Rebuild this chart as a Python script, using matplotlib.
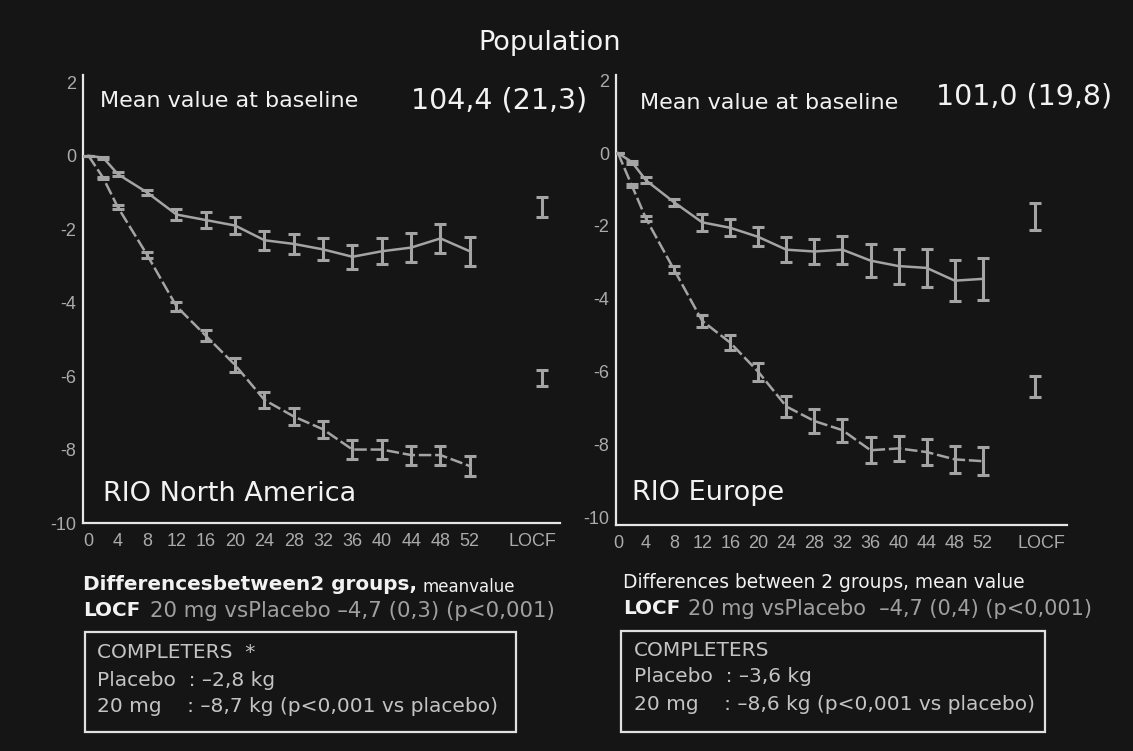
import matplotlib
matplotlib.use("Agg")
import matplotlib.pyplot as plt
from matplotlib.patches import Rectangle

# ---------------- data ----------------
weeks = [0, 2, 4, 8, 12, 16, 20, 24, 28, 32, 36, 40, 44, 48, 52]
xtick_weeks = [0, 4, 8, 12, 16, 20, 24, 28, 32, 36, 40, 44, 48, 52]
xtick_labels = ["0", "4", "8", "12", "16", "20", "24", "28", "32", "36", "40", "44", "48", "52"]
ytick_vals = [2, 0, -2, -4, -6, -8, -10]

na_placebo = [0, -0.05, -0.5, -1.0, -1.6, -1.75, -1.9, -2.3, -2.4, -2.55, -2.75, -2.6, -2.5, -2.25, -2.6]
na_placebo_err = [0, 0.03, 0.06, 0.08, 0.15, 0.22, 0.23, 0.26, 0.27, 0.30, 0.32, 0.36, 0.40, 0.39, 0.39]
na_drug = [0, -0.6, -1.4, -2.7, -4.1, -4.9, -5.7, -6.65, -7.1, -7.45, -8.0, -8.0, -8.15, -8.15, -8.45]
na_drug_err = [0, 0.03, 0.05, 0.08, 0.12, 0.15, 0.18, 0.22, 0.22, 0.24, 0.25, 0.25, 0.26, 0.26, 0.27]
na_locf_placebo = -1.4
na_locf_placebo_err = 0.27
na_locf_drug = -6.05
na_locf_drug_err = 0.21

eu_placebo = [0, -0.25, -0.75, -1.35, -1.9, -2.05, -2.3, -2.65, -2.7, -2.65, -2.95, -3.1, -3.15, -3.5, -3.45]
eu_placebo_err = [0, 0.04, 0.08, 0.10, 0.23, 0.23, 0.26, 0.34, 0.34, 0.38, 0.46, 0.48, 0.52, 0.57, 0.57]
eu_drug = [0, -0.9, -1.8, -3.2, -4.6, -5.2, -6.0, -6.95, -7.35, -7.6, -8.15, -8.1, -8.2, -8.4, -8.45]
eu_drug_err = [0, 0.04, 0.06, 0.10, 0.16, 0.20, 0.24, 0.30, 0.32, 0.32, 0.35, 0.34, 0.35, 0.38, 0.38]
eu_locf_placebo = -1.75
eu_locf_placebo_err = 0.37
eu_locf_drug = -6.4
eu_locf_drug_err = 0.29

# ---------------- style ----------------
BG = "#151515"
LINE = "#a4a4a4"
TICK = "#ababab"
WHITE = "#f2f2f2"
SOFT = "#c4c4c4"
GREY = "#a0a0a0"
MAIN = ["DejaVu Sans"]
TICKFONT = ["Liberation Sans", "DejaVu Sans"]
plt.rcParams["font.family"] = MAIN

W, H = 1133, 751
fig = plt.figure(figsize=(W / 100, H / 100), dpi=100, facecolor=BG)


def fx(px):
    return px / W


def fy(py):
    return 1 - py / H


def panel(rect, placebo, placebo_err, drug, drug_err, lp, lpe, ld, lde,
          xlim, ylim, locf_x, locf_lbl_x):
    ax = fig.add_axes(rect)
    ax.set_facecolor(BG)
    ax.errorbar(weeks, placebo, yerr=placebo_err, color=LINE, lw=1.8,
                elinewidth=2.2, capsize=4, capthick=2.2, zorder=3)
    ax.errorbar(weeks, drug, yerr=drug_err, color=LINE, lw=1.8, ls=(0, (5, 1.5)),
                elinewidth=2.2, capsize=4, capthick=2.2, zorder=3)
    ax.errorbar([locf_x], [lp], yerr=[lpe], color=LINE, elinewidth=2.2,
                capsize=4, capthick=2.2, fmt="none")
    ax.errorbar([locf_x], [ld], yerr=[lde], color=LINE, elinewidth=2.2,
                capsize=4, capthick=2.2, fmt="none")
    ax.set_xlim(*xlim)
    ax.set_ylim(*ylim)
    ax.set_xticks(xtick_weeks + [locf_lbl_x])
    ax.set_xticklabels(xtick_labels + ["LOCF"], family=TICKFONT)
    ax.set_yticks(ytick_vals)
    ax.set_yticklabels([str(v) for v in ytick_vals], family=TICKFONT)
    ax.tick_params(axis="both", length=0, colors=TICK, labelsize=13)
    ax.tick_params(axis="x", pad=7)
    ax.tick_params(axis="y", pad=5)
    for s in ("top", "right"):
        ax.spines[s].set_visible(False)
    for s in ("left", "bottom"):
        ax.spines[s].set_color("#e6e6e6")
        ax.spines[s].set_linewidth(1.6)
    return ax


ax1 = panel([fx(83), fy(523), fx(560 - 83), (523 - 75) / H],
            na_placebo, na_placebo_err, na_drug, na_drug_err,
            na_locf_placebo, na_locf_placebo_err, na_locf_drug, na_locf_drug_err,
            xlim=(-0.75, 64.3), ylim=(-10.0, 2.2), locf_x=61.8, locf_lbl_x=60.6)
ax2 = panel([fx(616), fy(525), fx(1067 - 616), (525 - 75) / H],
            eu_placebo, eu_placebo_err, eu_drug, eu_drug_err,
            eu_locf_placebo, eu_locf_placebo_err, eu_locf_drug, eu_locf_drug_err,
            xlim=(-0.28, 64.0), ylim=(-10.2, 2.14), locf_x=59.5, locf_lbl_x=60.4)

# ---------------- texts ----------------
fig.text(fx(550), fy(43), "Population", color=WHITE, fontsize=19.5,
         ha="center", va="center")

fig.text(fx(100), fy(101), "Mean value at baseline", color=WHITE, fontsize=16,
         ha="left", va="center")
fig.text(fx(411), fy(101), "104,4 (21,3)", color=WHITE, fontsize=20.5,
         ha="left", va="center")
fig.text(fx(640), fy(103), "Mean value at baseline", color=WHITE, fontsize=16,
         ha="left", va="center")
fig.text(fx(936), fy(97), "101,0 (19,8)", color=WHITE, fontsize=20.5,
         ha="left", va="center")

fig.text(fx(103), fy(494), "RIO North America", color=WHITE, fontsize=19.5,
         ha="left", va="center")
fig.text(fx(632), fy(493), "RIO Europe", color=WHITE, fontsize=19.5,
         ha="left", va="center")

# left bottom block
fig.text(fx(83), fy(585), "Differencesbetween2 groups,", color=WHITE,
         fontsize=14.4, fontweight="bold", ha="left", va="center")
fig.text(fx(423), fy(587), "meanvalue", color=WHITE, fontsize=12,
         ha="left", va="center")
fig.text(fx(83), fy(611), "LOCF", color=WHITE, fontsize=14.4,
         fontweight="bold", ha="left", va="center")
fig.text(fx(150), fy(611), "20 mg vsPlacebo \u20134,7 (0,3) (p<0,001)",
         color=GREY, fontsize=15.3, ha="left", va="center")
fig.patches.append(Rectangle((fx(85), fy(732)), fx(516 - 85), (732 - 632) / H,
                             transform=fig.transFigure, fill=False,
                             edgecolor="#e0e0e0", lw=1.6))
fig.text(fx(97), fy(652), "COMPLETERS  *", color=SOFT, fontsize=14.5,
         ha="left", va="center")
fig.text(fx(97), fy(681), "Placebo  : \u20132,8 kg", color=SOFT, fontsize=14.5,
         ha="left", va="center")
fig.text(fx(97), fy(707), "20 mg    : \u20138,7 kg (p<0,001 vs placebo)",
         color=SOFT, fontsize=14.5, ha="left", va="center")

# right bottom block
fig.text(fx(623), fy(583), "Differences between 2 groups, mean value",
         color=WHITE, fontsize=13.4, ha="left", va="center")
fig.text(fx(623), fy(609), "LOCF", color=WHITE, fontsize=14.4,
         fontweight="bold", ha="left", va="center")
fig.text(fx(688), fy(609), "20 mg vsPlacebo  \u20134,7 (0,4) (p<0,001)",
         color=GREY, fontsize=15, ha="left", va="center")
fig.patches.append(Rectangle((fx(621), fy(732)), fx(1045 - 621), (732 - 631) / H,
                             transform=fig.transFigure, fill=False,
                             edgecolor="#e0e0e0", lw=1.6))
fig.text(fx(634), fy(650), "COMPLETERS", color=SOFT, fontsize=14.5,
         ha="left", va="center")
fig.text(fx(634), fy(677), "Placebo  : \u20133,6 kg", color=SOFT, fontsize=14.5,
         ha="left", va="center")
fig.text(fx(634), fy(705), "20 mg    : \u20138,6 kg (p<0,001 vs placebo)",
         color=SOFT, fontsize=14.5, ha="left", va="center")

fig.savefig("out.png", dpi=100, facecolor=BG)
